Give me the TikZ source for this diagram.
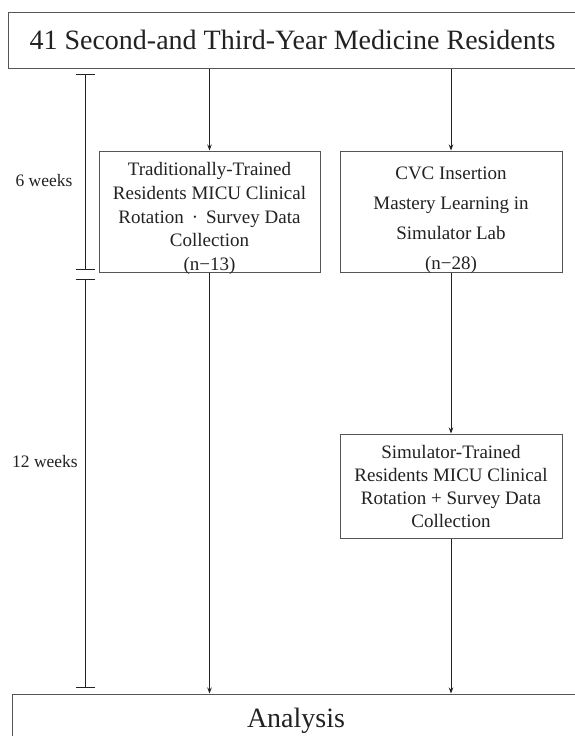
\documentclass[tikz,border=0pt]{standalone}
\usepackage{fontspec}
\setmainfont{Liberation Serif}
\usetikzlibrary{arrows.meta}
\definecolor{ink}{HTML}{222222}
\definecolor{edge}{HTML}{555555}
\tikzset{
  box/.style={draw=edge, line width=1pt, inner sep=0pt, align=center, text=ink},
  boxlabel/.style={inner sep=0pt, align=center, text=ink},
  bigtext/.style={font=\fontsize{28}{30}\selectfont},
  sidelabel/.style={text=ink, font=\fontsize{17.5}{20}\selectfont, inner sep=0pt},
  flow/.style={draw=ink, line width=0.9pt, -{Stealth[length=6pt,width=4.5pt]}},
  span/.style={draw=ink, line width=0.9pt, {Bar[width=19pt,line width=0.9pt]}-{Bar[width=19pt,line width=0.9pt]}}
}
\begin{document}
\begin{tikzpicture}[x=1pt,y=-1pt]
\useasboundingbox (0,0) rectangle (575,736);
\fill[white] (0,0) rectangle (575,736);

\node[box, bigtext, minimum width=569pt, minimum height=56pt] (top) at (292.5,40) {41 Second-and Third-Year Medicine Residents};

\node[box, minimum width=221pt, minimum height=121pt] (trad) at (209.5,211.5) {};
\node[boxlabel, font=\fontsize{19}{23.7}\selectfont] (tradtext) at ([yshift=-7pt]trad.center)
  {Traditionally-Trained\\Residents MICU Clinical\\Rotation \,·\, Survey Data\\Collection\\(n−13)};

\node[box, minimum width=222pt, minimum height=121pt] (cvc) at (451,211.5) {};
\node[boxlabel, font=\fontsize{19}{30}\selectfont] (cvctext) at ([yshift=-8.5pt]cvc.center)
  {CVC Insertion\\Mastery Learning in\\Simulator Lab\\(n−28)};

\node[box, font=\fontsize{19}{23}\selectfont, minimum width=222pt, minimum height=104pt] (sim) at (451,486)
  {Simulator-Trained\\Residents MICU Clinical\\Rotation + Survey Data\\Collection};

\node[box, bigtext, minimum width=568pt, minimum height=54pt] (ana) at (296,721) {Analysis};

\coordinate (t1) at (85,74);
\coordinate (t2) at (85,270);
\coordinate (t3) at (85,279);
\coordinate (t4) at (85,688);
\draw[span] (t1) -- (t2);
\draw[span] (t3) -- (t4);

\node[sidelabel] (six) at (44,181) {6 weeks};
\node[sidelabel] (twelve) at (45,462) {12 weeks};

\draw[flow] (top.south -| trad.north) -- (trad.north);
\draw[flow] (top.south -| cvc.north) -- (cvc.north);
\draw[flow] (cvc.south) -- (sim.north);
\draw[flow] (trad.south) -- (trad.south |- ana.north);
\draw[flow] (sim.south) -- (sim.south |- ana.north);
\end{tikzpicture}
\end{document}
